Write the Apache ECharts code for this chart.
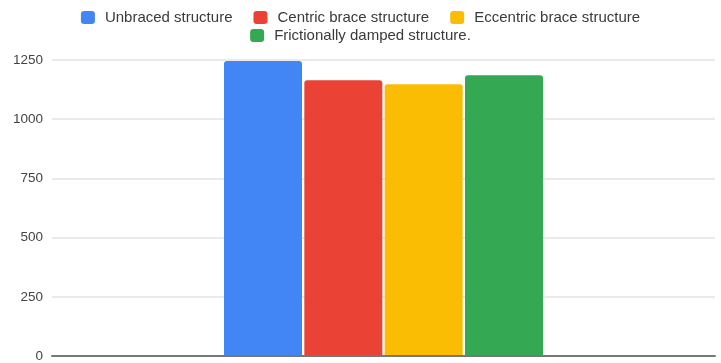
<!DOCTYPE html>
<html>
<head>
<meta charset="utf-8">
<script src="https://cdn.jsdelivr.net/npm/echarts@6/dist/echarts.min.js"></script>
<style>
  html, body { margin: 0; padding: 0; background: #fff; }
  #chart { width: 721px; height: 363px; }
</style>
</head>
<body>
<div id="chart"></div>
<script>
// One category, four structural systems compared side by side
var categories = [''];
var seriesNames = ['Unbraced structure', 'Centric brace structure', 'Eccentric brace structure', 'Frictionally damped structure.'];
var unbraced = [1246];
var centric = [1165];
var eccentric = [1148];
var damped = [1186];
var yTicks = [0, 250, 500, 750, 1000, 1250];

var colors = ['#4285f4', '#ea4335', '#fbbc04', '#34a853'];
var values = [unbraced, centric, eccentric, damped];

var chart = echarts.init(document.getElementById('chart'), null, { renderer: 'canvas' });

var font = 'Liberation Sans, Arial, sans-serif';
var legendBase = {
  left: 'center',
  itemWidth: 14, itemHeight: 13, itemGap: 21,
  icon: 'roundRect',
  padding: 0,
  textStyle: { fontFamily: font, fontSize: 15, color: '#3a3a3a', padding: [0, 0, 0, 5] }
};

var option = {
  animation: false,
  color: colors,
  legend: [
    Object.assign({}, legendBase, { data: seriesNames.slice(0, 3), top: 10 }),
    Object.assign({}, legendBase, { data: seriesNames.slice(3), top: 28 })
  ],
  grid: { left: 52, right: 6, top: 60, bottom: 5, containLabel: false },
  xAxis: {
    type: 'category',
    data: categories,
    z: 5,
    axisLine: { show: true, lineStyle: { color: '#777', width: 2 } },
    axisTick: { show: false },
    axisLabel: { show: false },
    splitLine: { show: false }
  },
  yAxis: {
    type: 'value',
    min: yTicks[0],
    max: yTicks[yTicks.length - 1],
    interval: yTicks[1] - yTicks[0],
    axisLine: { show: false },
    axisTick: { show: false },
    axisLabel: {
      margin: 9,
      fontFamily: font,
      fontSize: 13.5,
      color: '#444',
      formatter: function (v) { return String(v); }
    },
    splitLine: { lineStyle: { color: '#e3e3e3', width: 1.5 } }
  },
  series: seriesNames.map(function (name, i) {
    return {
      name: name,
      type: 'bar',
      data: values[i],
      barWidth: 78,
      barGap: '3%',
      itemStyle: { color: colors[i], borderRadius: [3, 3, 0, 0] }
    };
  })
};

chart.setOption(option);
</script>
</body>
</html>
